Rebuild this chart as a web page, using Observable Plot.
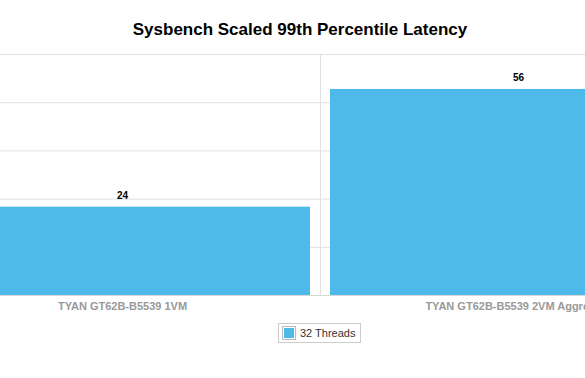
<!DOCTYPE html>
<html>
<head>
<meta charset="utf-8">
<script src="https://cdn.jsdelivr.net/npm/d3@7"></script>
<script src="https://cdn.jsdelivr.net/npm/@observablehq/plot@0.6"></script>
<style>
  html, body { margin: 0; padding: 0; background: #fff; }
  #wrap { position: relative; width: 585px; height: 378px; overflow: hidden; background: #fff; font-family: "Liberation Sans", Arial, sans-serif; }
  #title { position: absolute; left: 0; width: 600px; top: 21px; text-align: center; font-size: 17px; line-height: 17px; font-weight: bold; color: #000; }
  #chart { position: absolute; left: -100px; top: 0; width: 830px; height: 320px; }
  #chart svg { max-width: none !important; }
  #legend { position: absolute; left: 278px; top: 323px; width: 81px; height: 18px; border: 1px solid #cccccc; display: flex; align-items: center; font-size: 11px; color: #333; }
  #legend .sw { display: inline-block; width: 10px; height: 10px; border: 1px solid #bbbbbb; padding: 1px; background-clip: content-box; margin: 0 4px 0 3px; }
</style>
</head>
<body>
<div id="wrap">
  <div id="title">Sysbench Scaled 99th Percentile Latency</div>
  <div id="chart"></div>
  <div id="legend"><span class="sw"></span><span>32 Threads</span></div>
</div>
<script>
const categories = ["TYAN GT62B-B5539 1VM", "TYAN GT62B-B5539 2VM Aggregate"];
const seriesName = "32 Threads";
const values = [24, 56];
const yTicks = [0, 13.1, 26.2, 39.3, 52.4, 65.5];
const barColor = "#4dbaea";

const data = categories.map((c, i) => ({category: c, value: values[i]}));
document.querySelector("#legend .sw").style.backgroundColor = barColor;
document.querySelector("#legend span:last-child").textContent = seriesName;

const chart = Plot.plot({
  width: 830,
  height: 320,
  marginLeft: 14,
  marginRight: 4,
  marginTop: 54,
  marginBottom: 25,
  style: {fontFamily: "Liberation Sans, Arial, sans-serif", fontSize: "11px", fontWeight: "bold", color: "#999999", background: "transparent"},
  x: {domain: categories, padding: 0.0505, tickSize: 0, tickPadding: 7, label: null},
  y: {domain: [0, 65.5], axis: null},
  marks: [
    Plot.ruleY(yTicks.slice(1), {stroke: "#e0e0e0", strokeWidth: 1, strokeOpacity: 1}),
    Plot.ruleX(categories.slice(1), {stroke: "#e0e0e0", strokeWidth: 1, strokeOpacity: 1, dx: -198}),
    Plot.barY(data, {x: "category", y: "value", fill: barColor}),
    Plot.ruleY([0], {stroke: "#d8d8d8", strokeWidth: 1, strokeOpacity: 1}),
    Plot.text(data, {x: "category", y: "value", text: d => String(d.value), dy: -11.5, fill: "#000", fontWeight: "bold", fontSize: 10})
  ]
});
document.getElementById("chart").appendChild(chart);
</script>
</body>
</html>
